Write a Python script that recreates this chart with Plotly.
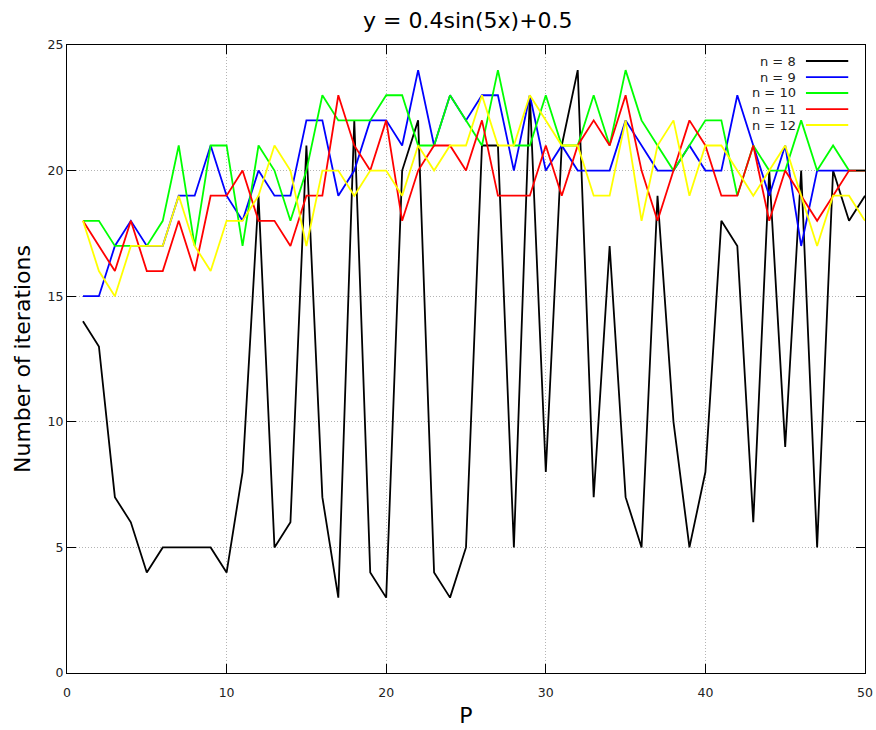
import plotly.graph_objects as go

P = list(range(1, 51))

n8 = [14, 13, 7, 6, 4, 5, 5, 5, 5, 4, 8, 19, 5, 6, 21, 7, 3, 22, 4, 3,
      20, 22, 4, 3, 5, 21, 21, 5, 23, 8, 21, 24, 7, 17, 7, 5, 19, 10, 5, 8,
      18, 17, 6, 20, 9, 20, 5, 20, 18, 19]
n9 = [15, 15, 17, 18, 17, 17, 19, 19, 21, 19, 18, 20, 19, 19, 22, 22, 19, 20, 22, 22,
      21, 24, 21, 23, 22, 23, 23, 20, 23, 20, 21, 20, 20, 20, 22, 21, 20, 20, 21, 20,
      20, 23, 21, 19, 21, 17, 20, 20, 20, 20]
n10 = [18, 18, 17, 17, 17, 18, 21, 17, 21, 21, 17, 21, 20, 18, 20, 23, 22, 22, 22, 23,
       23, 21, 21, 23, 22, 21, 24, 21, 21, 23, 21, 21, 23, 21, 24, 22, 21, 20, 21, 22,
       22, 19, 21, 20, 20, 22, 20, 21, 20, 20]
n11 = [18, 17, 16, 18, 16, 16, 18, 16, 19, 19, 20, 18, 18, 17, 19, 19, 23, 21, 20, 22,
       18, 20, 21, 21, 20, 22, 19, 19, 19, 21, 19, 21, 22, 21, 23, 20, 18, 20, 22, 21,
       19, 19, 21, 18, 20, 19, 18, 19, 20, 20]
n12 = [18, 16, 15, 17, 17, 17, 19, 17, 16, 18, 18, 19, 21, 20, 17, 20, 20, 19, 20, 20,
       19, 21, 20, 21, 21, 23, 21, 21, 23, 22, 21, 21, 19, 19, 22, 18, 21, 22, 19, 21,
       21, 20, 19, 20, 21, 19, 17, 19, 19, 18]

series_names = ["n = 8", "n = 9", "n = 10", "n = 11", "n = 12"]
series_values = [n8, n9, n10, n11, n12]
colors = ["#000000", "#0000ff", "#00ff00", "#ff0000", "#ffff00"]

x_ticks = [0, 10, 20, 30, 40, 50]
y_ticks = [0, 5, 10, 15, 20, 25]

fig = go.Figure()
for name, vals, col in zip(series_names, series_values, colors):
    fig.add_trace(go.Scatter(x=P, y=vals, mode="lines", name=name,
                             line=dict(color=col, width=1.8), showlegend=False))

# gnuplot-style legend: right-aligned text followed by line sample
row_y = [0.9745, 0.949, 0.9236, 0.898, 0.8726]
for name, col, yy in zip(series_names, colors, row_y):
    fig.add_annotation(x=0.916, y=yy, xref="paper", yref="paper", text=name,
                       showarrow=False, xanchor="right", yanchor="middle",
                       font=dict(family="DejaVu Sans", size=13, color="#222"))
    fig.add_shape(type="line", xref="paper", yref="paper", x0=0.926, x1=0.979,
                  y0=yy, y1=yy, line=dict(color=col, width=1.8))

axis_common = dict(
    showgrid=True, gridcolor="#b4b4b4", griddash="1px,2px", gridwidth=1,
    showline=True, linecolor="#000", linewidth=1, mirror="ticks",
    ticks="inside", ticklen=9, tickcolor="#000", tickwidth=1,
    zeroline=False, automargin=False,
    tickfont=dict(family="DejaVu Sans", size=12.5, color="#222"),
)

fig.update_layout(
    width=876, height=730,
    margin=dict(l=67, r=11, t=45, b=57),
    paper_bgcolor="white", plot_bgcolor="white",
    title=dict(text="y = 0.4sin(5x)+0.5", x=0.534, xanchor="center",
               y=0.972, yanchor="middle", yref="container",
               font=dict(family="DejaVu Sans", size=22, color="#000")),
    xaxis=dict(range=[0, 50], tickvals=x_ticks, ticklabelstandoff=8,
               title=dict(text="P", standoff=8,
                          font=dict(family="DejaVu Sans", size=22, color="#000")),
               **axis_common),
    yaxis=dict(range=[0, 25], tickvals=y_ticks,
               title=dict(text="Number of iterations", standoff=10,
                          font=dict(family="DejaVu Sans", size=22, color="#000")),
               **axis_common),
)

fig.write_html("out.html", config={"displayModeBar": False},
               post_script="document.body.style.margin='0';document.body.style.padding='0';")
